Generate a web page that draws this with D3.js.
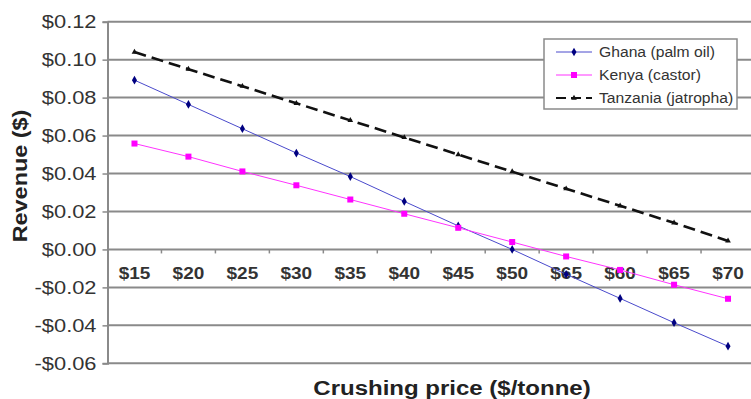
<!DOCTYPE html>
<html>
<head>
<meta charset="utf-8">
<script src="https://cdn.jsdelivr.net/npm/d3@7"></script>
<style>
html,body{margin:0;padding:0;background:#fff;}
svg{display:block;font-family:Arial,"Liberation Sans",sans-serif;}
</style>
</head>
<body>
<svg id="chart" width="751" height="399"></svg>
<script>
const categories = ["$15","$20","$25","$30","$35","$40","$45","$50","$65","$60","$65","$70"];
const ghana = [0.0892,0.0764,0.0636,0.0508,0.0384,0.0253,0.0124,0.0000,-0.0131,-0.0258,-0.0386,-0.0510];
const kenya = [0.0558,0.0489,0.0411,0.0338,0.0263,0.0188,0.0114,0.0039,-0.0037,-0.0108,-0.0186,-0.0260];
const tanzania = [0.1040,0.0950,0.0860,0.0770,0.0680,0.0590,0.0500,0.0410,0.0320,0.0230,0.0140,0.0045];
const yTicks = [-0.06,-0.04,-0.02,0.00,0.02,0.04,0.06,0.08,0.10,0.12];
const seriesNames = ["Ghana (palm oil)","Kenya (castor)","Tanzania (jatropha)"];

(function(){
const svg = d3.select("#chart");
const pL = 107.5, pR = 755, pT = 21.7, pB = 363.3;
const idx = categories.map((c,i)=>i);
const x = d3.scaleBand().domain(idx).range([pL,pR]);
const y = d3.scaleLinear().domain([-0.06,0.12]).range([pB,pT]);
const cx = i => x(i) + x.bandwidth()/2;
function stretch(sel, f){
  sel.each(function(){
    const w = this.getComputedTextLength();
    d3.select(this).attr("textLength", w*f).attr("lengthAdjust","spacingAndGlyphs");
  });
}

// gridlines
svg.append("g").selectAll("line").data(yTicks).join("line")
  .attr("x1",pL).attr("x2",751)
  .attr("y1",d=>y(d)).attr("y2",d=>y(d))
  .attr("stroke","#8a8a8a").attr("stroke-width",2);

// y axis
const yAxis = d3.axisLeft(y).tickValues(yTicks).tickSize(5).tickPadding(6)
  .tickFormat(d => (d<0?"-":"") + "$" + Math.abs(d).toFixed(2));
const ya = svg.append("g").attr("transform",`translate(${pL},0)`).call(yAxis);
ya.select(".domain").attr("stroke","#8a8a8a").attr("stroke-width",2);
ya.selectAll(".tick line").attr("stroke","#8a8a8a").attr("stroke-width",1.5);
ya.selectAll(".tick text").attr("font-size",19).attr("fill","#333").attr("font-family","Arial,'Liberation Sans',sans-serif");
stretch(ya.selectAll(".tick text"), 1.15);

// x axis at zero
const xa = svg.append("g").attr("transform",`translate(0,${y(0)})`);
xa.selectAll("line").data(idx.slice(1)).join("line")
  .attr("x1",d=>x(d)).attr("x2",d=>x(d)).attr("y1",0).attr("y2",4)
  .attr("stroke","#8a8a8a").attr("stroke-width",1.5);
const xt = xa.selectAll("text").data(idx).join("text")
  .attr("x",d=>cx(d)).attr("y",30)
  .attr("text-anchor","middle").attr("font-size",16.5).attr("font-weight","bold").attr("fill","#333")
  .text(d=>categories[d]);
stretch(xt, 1.15);

// lines
const line = arr => d3.line().x((d,i)=>cx(i)).y(d=>y(d))(arr);
svg.append("path").attr("d",line(tanzania)).attr("fill","none").attr("stroke","#111")
  .attr("stroke-width",2.6).attr("stroke-dasharray","12,6");
svg.append("g").selectAll("path").data(tanzania).join("path")
  .attr("d",d3.symbol(d3.symbolTriangle,14)()).attr("transform",(d,i)=>`translate(${cx(i)},${y(d)})`).attr("fill","#111");

svg.append("path").attr("d",line(ghana)).attr("fill","none").attr("stroke","#4a4acc").attr("stroke-width",1);
svg.append("g").selectAll("path").data(ghana).join("path")
  .attr("d",d3.symbol(d3.symbolDiamond,22)()).attr("transform",(d,i)=>`translate(${cx(i)},${y(d)})`).attr("fill","#000080");

svg.append("path").attr("d",line(kenya)).attr("fill","none").attr("stroke","#ff33ff").attr("stroke-width",1);
svg.append("g").selectAll("rect").data(kenya).join("rect")
  .attr("x",(d,i)=>cx(i)-3).attr("y",d=>y(d)-3).attr("width",6).attr("height",6).attr("fill","#ff00ff");

// legend
const lg = svg.append("g");
lg.append("rect").attr("x",544).attr("y",39).attr("width",193).attr("height",70)
  .attr("fill","#fff").attr("stroke","#8a8a8a").attr("stroke-width",1.5);
const ly = [52,75,98];
lg.append("line").attr("x1",556).attr("x2",592).attr("y1",ly[0]).attr("y2",ly[0]).attr("stroke","#4a4acc").attr("stroke-width",1);
lg.append("path").attr("d",d3.symbol(d3.symbolDiamond,22)()).attr("transform",`translate(574,${ly[0]})`).attr("fill","#000080");
lg.append("line").attr("x1",556).attr("x2",592).attr("y1",ly[1]).attr("y2",ly[1]).attr("stroke","#ff33ff").attr("stroke-width",1);
lg.append("rect").attr("x",571).attr("y",ly[1]-3).attr("width",6).attr("height",6).attr("fill","#ff00ff");
lg.append("line").attr("x1",556).attr("x2",592).attr("y1",ly[2]).attr("y2",ly[2]).attr("stroke","#111").attr("stroke-width",2).attr("stroke-dasharray","10,5");
lg.append("path").attr("d",d3.symbol(d3.symbolTriangle,14)()).attr("transform",`translate(574,${ly[2]})`).attr("fill","#111");
const lt = lg.selectAll("text.lt").data(seriesNames).join("text").attr("class","lt")
  .attr("x",599).attr("y",(d,i)=>ly[i]+5).attr("font-size",14).attr("fill","#333").text(d=>d);
stretch(lt, 1.12);

// axis titles
const xTitle = svg.append("text").attr("x",452).attr("y",395).attr("text-anchor","middle")
  .attr("font-size",20).attr("font-weight","bold").attr("fill","#222").text("Crushing price ($/tonne)");
stretch(xTitle, 1.2);
const yTitle = svg.append("text").attr("transform","translate(27,176) rotate(-90)").attr("text-anchor","middle")
  .attr("font-size",20).attr("font-weight","bold").attr("fill","#222").text("Revenue ($)");
stretch(yTitle, 1.17);
})();
</script>
</body>
</html>
